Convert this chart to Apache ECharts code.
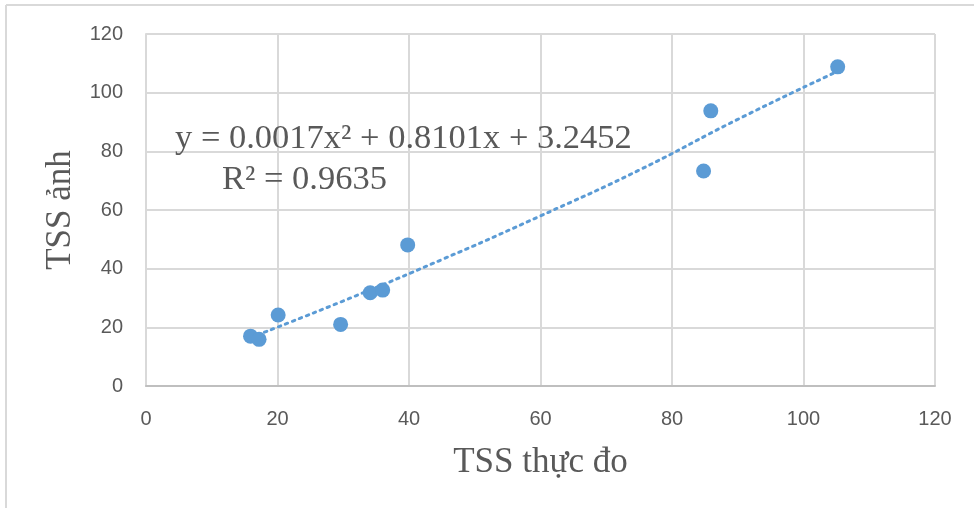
<!DOCTYPE html>
<html>
<head>
<meta charset="utf-8">
<script src="https://cdn.jsdelivr.net/npm/echarts@6/dist/echarts.min.js"></script>
<style>
	html,body{margin:0;padding:0;background:#fff;}
	#container{width:974px;height:508px;}
</style>
</head>
<body>
<div id="container"></div>
<script>
// du lieu do thuc te va anh
var xTicks = [0, 20, 40, 60, 80, 100, 120];
var yTicks = [0, 20, 40, 60, 80, 100, 120];
var tssThucDo = [15.9, 17.2, 20.1, 29.6, 34.1, 36.0, 39.8, 84.8, 85.9, 105.2];
var tssAnh = [17.0, 15.9, 24.2, 21.0, 31.8, 32.7, 48.1, 73.3, 93.8, 108.8];
// duong xu huong doc tu hinh
var trendX = [15.9, 30, 45, 60, 75, 90, 105.2];
var trendY = [16.5, 29.0, 43.1, 58.0, 73.6, 90.9, 107.3];
var eqText = 'y = 0.0017x² + 0.8101x + 3.2452';
var r2Text = 'R² = 0.9635';

var dom = document.getElementById("container");
var myChart = echarts.init(dom);

var points = tssThucDo.map(function(v, i){ return [v, tssAnh[i]]; });
var trend = trendX.map(function(v, i){ return [v, trendY[i]]; });

var serif = '"Liberation Serif", "DejaVu Serif", serif';
var sans = '"Liberation Sans", "DejaVu Sans", sans-serif';

option = {
	animation: false,
	backgroundColor: '#fff',
	grid: {
		left: 146,
		top: 34,
		right: 39,
		bottom: 122
	},
	xAxis: {
		type: 'value',
		min: xTicks[0],
		max: xTicks[xTicks.length - 1],
		interval: 20,
		name: 'TSS thực đo',
		nameLocation: 'middle',
		nameGap: 59,
		nameTextStyle: { fontFamily: serif, fontSize: 35, color: '#595959' },
		axisLine: { lineStyle: { color: '#bfbfbf', width: 2 } },
		axisTick: { show: false },
		axisLabel: { color: '#595959', fontFamily: sans, fontSize: 20, margin: 23 },
		splitLine: { lineStyle: { color: '#d9d9d9', width: 2 } }
	},
	yAxis: {
		type: 'value',
		min: yTicks[0],
		max: yTicks[yTicks.length - 1],
		interval: 20,
		name: 'TSS ảnh',
		nameLocation: 'middle',
		nameGap: 68,
		nameTextStyle: { fontFamily: serif, fontSize: 35, color: '#595959' },
		axisLine: { show: true, lineStyle: { color: '#d9d9d9', width: 2 } },
		axisTick: { show: false },
		axisLabel: { color: '#595959', fontFamily: sans, fontSize: 20, margin: 23 },
		splitLine: { lineStyle: { color: '#d9d9d9', width: 2 } }
	},
	graphic: [
		{ type: 'line', shape: { x1: 6, y1: 5, x2: 974, y2: 5 }, style: { stroke: '#d9d9d9', lineWidth: 2 } },
		{ type: 'line', shape: { x1: 6, y1: 5, x2: 6, y2: 508 }, style: { stroke: '#d9d9d9', lineWidth: 2 } },
		{ type: 'text', left: 175, top: 121, z: 10,
		  style: { text: eqText, fontFamily: serif, fontSize: 34.5, fill: '#595959' } },
		{ type: 'text', left: 222, top: 162, z: 10,
		  style: { text: r2Text, fontFamily: serif, fontSize: 34.5, fill: '#595959' } }
	],
	series: [{
		name: 'trend',
		type: 'line',
		data: trend,
		smooth: true,
		showSymbol: false,
		symbol: 'none',
		lineStyle: { color: '#5b9bd5', width: 3, type: [2.5, 5], cap: 'round' },
		z: 2
	}, {
		name: 'TSS',
		type: 'scatter',
		data: points,
		symbolSize: 15,
		itemStyle: { color: '#5b9bd5', opacity: 1 },
		z: 3
	}]
};

if (option && typeof option === "object") {
	myChart.setOption(option, true);
}
</script>
</body>
</html>
